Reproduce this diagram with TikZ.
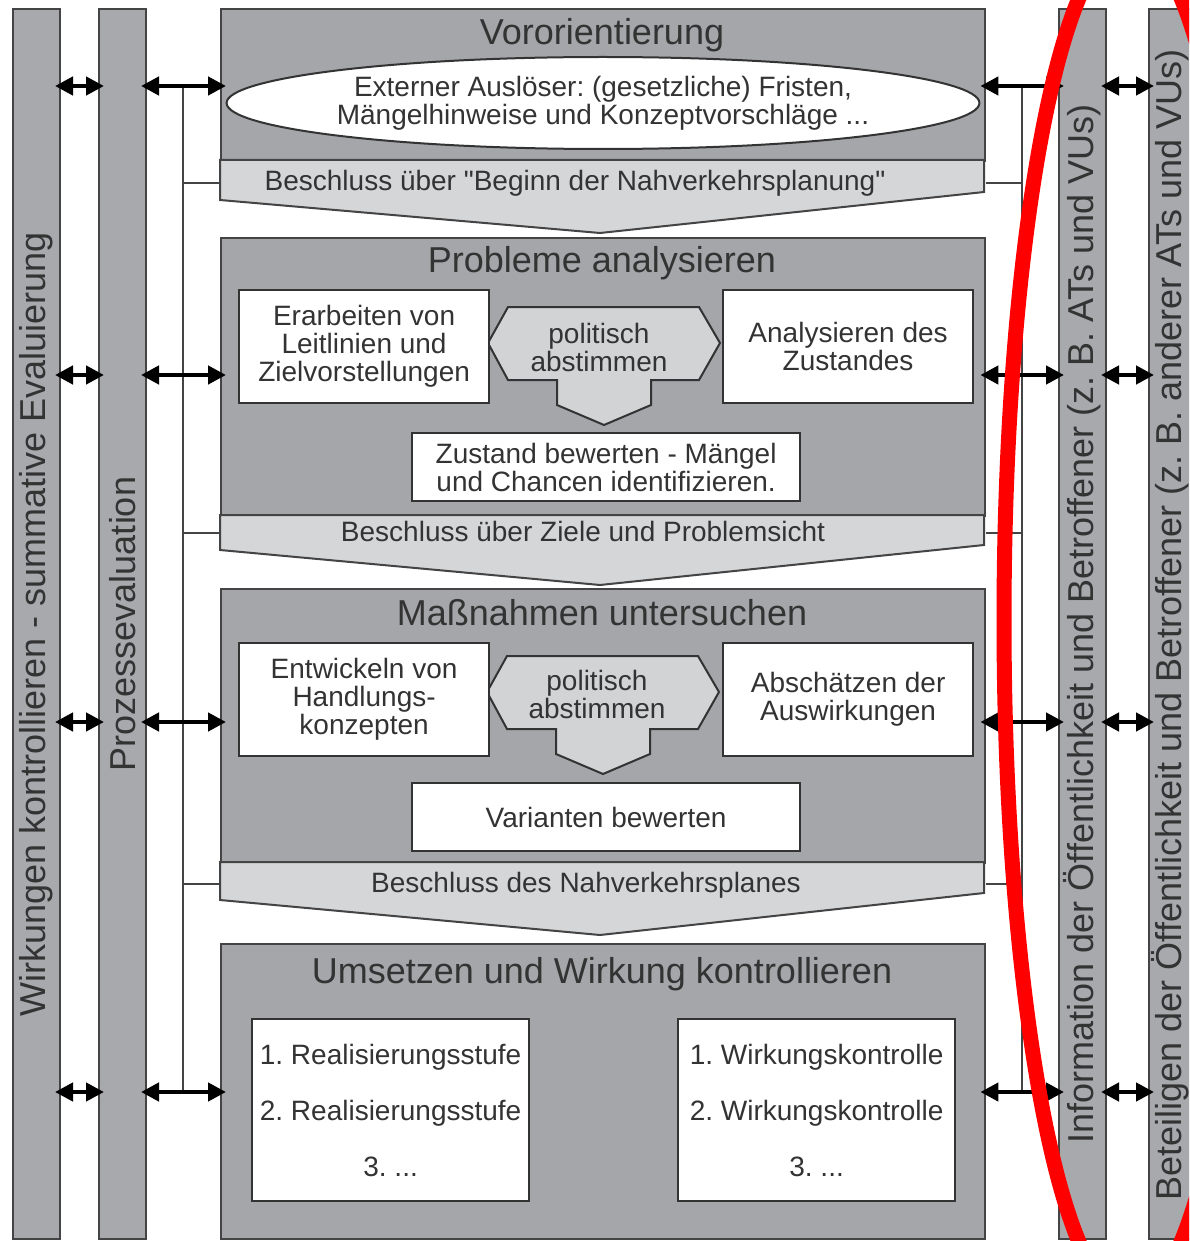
\documentclass[tikz,border=0pt]{standalone}
\usepackage{fontspec}
\setmainfont{Liberation Sans}[Ligatures=TeXOff]
\frenchspacing
\usetikzlibrary{arrows.meta,positioning,shapes.geometric}
\definecolor{BarGray}{HTML}{A8A9AD}
\definecolor{StageGray}{HTML}{A5A6AA}
\definecolor{BandGray}{HTML}{D5D6D8}
\definecolor{VoteGray}{HTML}{D2D3D5}
\definecolor{Edge}{HTML}{444444}
\definecolor{Ink}{HTML}{333333}
\newcommand{\bodyfont}{\fontsize{14}{14}\selectfont}
\newcommand{\titlefont}{\fontsize{18}{20}\selectfont}
% hexagon with downward arrow, centred at (#1,#2)
\newcommand{\votehex}[2]{%
  \draw[voteshape] (#1-116,#2) -- (#1-96,#2-36) -- (#1+95,#2-36) -- (#1+116,#2)
    -- (#1+95,#2+37) -- (#1+47,#2+37) -- (#1+47,#2+62) -- (#1,#2+82)
    -- (#1-47,#2+62) -- (#1-47,#2+37) -- (#1-96,#2+37) -- cycle;}
\tikzset{
  sidebar/.style={draw=Edge, line width=1pt, fill=BarGray, anchor=north west,
    inner sep=0pt, minimum width=23.5pt, minimum height=615pt},
  bartext/.style={rotate=90, font=\titlefont, text=Ink},
  stagebox/.style={draw=Edge, line width=1.2pt, fill=StageGray, anchor=north west,
    inner sep=0pt, minimum width=382pt, minimum height=#1},
  stagetitle/.style={font=\titlefont, text=Ink},
  bandshape/.style={draw=Edge, line width=1pt, fill=BandGray},
  bandtext/.style={font=\bodyfont, text=Ink},
  taskbox/.style={draw=Ink, line width=1.1pt, fill=white, anchor=north west,
    inner sep=0pt, align=center, font=\bodyfont, text=Ink},
  voteshape/.style={draw=Ink, line width=1pt, fill=VoteGray},
  votetext/.style={align=center, font=\bodyfont, text=Ink},
  dblarr/.style={{Triangle[length=9pt,width=9pt]}-{Triangle[length=9pt,width=9pt]},
    line width=2.2pt, black, shorten <=-3pt, shorten >=-3pt},
  busline/.style={draw=Edge, line width=1.2pt},
}
\begin{document}
\begin{tikzpicture}[x=0.5pt, y=-0.5pt,
  trigger/.style={ellipse, draw=Ink, line width=1pt, fill=white, inner sep=0pt,
    minimum width=357pt, minimum height=46pt, align=center, font=\bodyfont, text=Ink},
]
  \useasboundingbox (0,0) rectangle (1189,1241);
  \fill[white] (0,0) rectangle (1189,1241);
  \clip (0,0) rectangle (1189,1241);

  % side bars
  \node[sidebar] (evalbar) at (12,8) {};
  \node[sidebar] (procbar) at (98,8) {};
  \node[sidebar] (infobar) at (1058,8) {};
  \node[sidebar, minimum width=30pt] (partbar) at (1148,8) {};
  \node[bartext] (evaltxt) at (evalbar.center) {Wirkungen kontrollieren - summative Evaluierung};
  \node[bartext] (proctxt) at (procbar.center) {Prozessevaluation};
  \node[bartext] (infotxt) at (infobar.center) {Information der Öffentlichkeit und Betroffener (z. B. ATs und VUs)};
  \node[bartext] (parttxt) at (1170,625) {Beteiligen der Öffentlichkeit und Betroffener (z. B. anderer ATs und VUs)};

  % stages
  \node[stagebox=76pt] (st1) at (220,8) {};
  \node[stagebox=139pt] (st2) at (220,237) {};
  \node[stagebox=137pt] (st3) at (220,588) {};
  \node[stagebox=147.5pt] (st4) at (220,943) {};
  \node[stagetitle] (t1) at (602,35) {Vororientierung};
  \node[stagetitle] (t2) at (602,263) {Probleme analysieren};
  \node[stagetitle] (t3) at (602,613) {Maßnahmen untersuchen};
  \node[stagetitle] (t4) at (602,974) {Umsetzen und Wirkung kontrollieren};

  % decision bands
  \draw[bandshape] (220,160) -- (984,160) -- (984,192) -- (600,233) -- (220,200) -- cycle;
  \draw[bandshape] (220,515) -- (984,515) -- (984,545) -- (600,585) -- (220,550) -- cycle;
  \draw[bandshape] (220,862) -- (984,862) -- (984,893) -- (600,935) -- (220,900) -- cycle;
  \node[bandtext] (d1) at (575,183) {Beschluss über "Beginn der Nahverkehrsplanung"};
  \node[bandtext] (d2) at (583,531) {Beschluss über Ziele und Problemsicht};
  \node[bandtext] (d3) at (586,885) {Beschluss des Nahverkehrsplanes};

  % stage 1
  \node[trigger] (trig) at (603,103) {Externer Auslöser: (gesetzliche) Fristen,\\Mängelhinweise und Konzeptvorschläge ...};

  % stage 2
  \votehex{604}{343}
  \node[votetext] (vote1) at (599,347) {politisch\\abstimmen};
  \node[taskbox, minimum width=125pt, minimum height=56.5pt] (goals) at (238,289) {Erarbeiten von\\Leitlinien und\\Zielvorstellungen};
  \node[taskbox, minimum width=125pt, minimum height=56.5pt] (state) at (722,289) {Analysieren des\\Zustandes};
  \node[taskbox, minimum width=194pt, minimum height=34pt] (assess) at (411,432) {Zustand bewerten - Mängel\\und Chancen identifizieren.};

  % stage 3
  \votehex{603}{692}
  \node[votetext] (vote2) at (597,694) {politisch\\abstimmen};
  \node[taskbox, minimum width=125pt, minimum height=56.5pt] (concept) at (238,642) {Entwickeln von\\Handlungs-\\konzepten};
  \node[taskbox, minimum width=125pt, minimum height=56.5pt] (effect) at (722,642) {Abschätzen der\\Auswirkungen};
  \node[taskbox, minimum width=194pt, minimum height=34pt] (variant) at (411,782) {Varianten bewerten};

  % stage 4
  \node[taskbox, minimum width=138.5pt, minimum height=91pt] (real) at (251,1018) {1. Realisierungsstufe\\[14pt]2. Realisierungsstufe\\[14pt]3. ...};
  \node[taskbox, minimum width=138.5pt, minimum height=91pt] (ctrl) at (677,1018) {1. Wirkungskontrolle\\[14pt]2. Wirkungskontrolle\\[14pt]3. ...};

  % connectors
  \coordinate (lv1) at (0,86);
  \coordinate (lv2) at (0,375);
  \coordinate (lv3) at (0,722);
  \coordinate (lv4) at (0,1092);
  \coordinate (busL) at (183,0);
  \coordinate (busR) at (1022,0);
  \draw[busline] (busL |- lv1) -- (busL |- lv4);
  \draw[busline] (busR |- lv1) -- (busR |- lv4);
  \foreach \dy in {183,533,884} {
    \draw[busline] (busL |- 0,\dy) -- (st1.west |- 0,\dy);
    \draw[busline] (st1.east |- 0,\dy) -- (busR |- 0,\dy);
  }
  \foreach \lv in {lv1,lv2,lv3,lv4} {
    \draw[dblarr] (evalbar.east |- \lv) -- (procbar.west |- \lv);
    \draw[dblarr] (procbar.east |- \lv) -- (st1.west |- \lv);
    \draw[dblarr] (st1.east |- \lv) -- (infobar.west |- \lv);
    \draw[dblarr] (infobar.east |- \lv) -- (partbar.west |- \lv);
  }

  % highlight
  \draw[red, line width=7.5pt] (1130,620) ellipse [x radius=126, y radius=680];
\end{tikzpicture}
\end{document}
